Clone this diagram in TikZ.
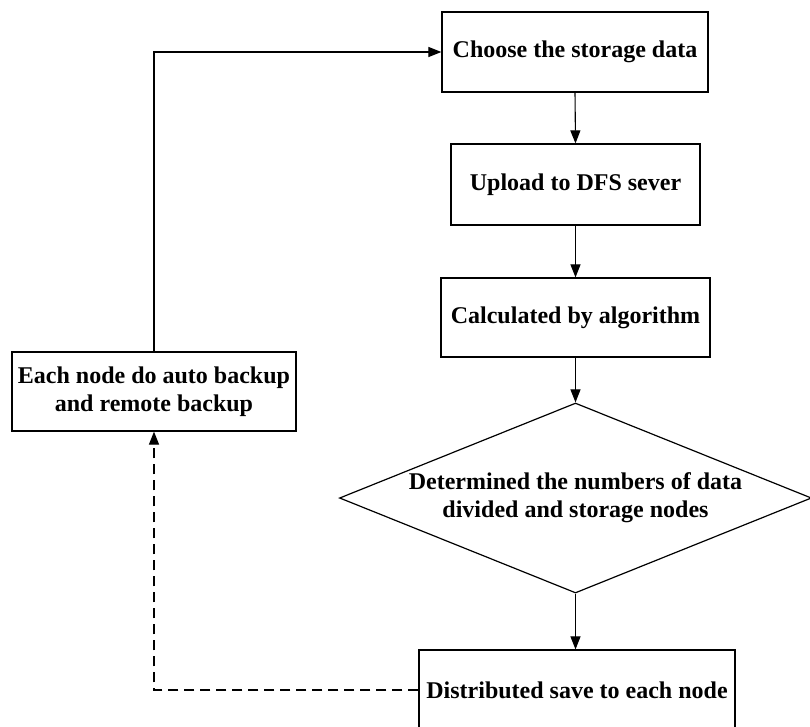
\documentclass[tikz,border=0pt]{standalone}
\usepackage{fontspec}
\setmainfont{Liberation Serif}
\usetikzlibrary{shapes.geometric,arrows.meta}
\begin{document}
\begin{tikzpicture}[x=1pt,y=-1pt,
  every node/.style={font=\fontsize{24}{28}\selectfont\bfseries, align=center, inner sep=0pt},
  procbox/.style={draw=black, line width=1.2pt, rectangle},
  decision/.style={draw=black, line width=1.2pt, diamond, shape aspect=2.48},
  flow/.style={line width=1.1pt, -{Triangle[length=13pt,width=10pt]}},
  backflow/.style={flow, dash pattern=on 10pt off 6pt}]
  \useasboundingbox (0,0) rectangle (810,726);
  \clip (0,0) rectangle (810,726);

  % main processing chain
  \node[procbox, minimum width=266pt, minimum height=80pt] (choose) at (575,52) {Choose the storage data};
  \node[procbox, minimum width=249pt, minimum height=81pt] (upload) at (575.5,184.5) {Upload to DFS sever};
  \node[procbox, minimum width=269pt, minimum height=79pt] (calc) at (575.5,317.5) {Calculated by algorithm};
  \node[decision, minimum width=472pt, minimum height=190pt] (decide) at (575.5,498) {Determined the numbers of data\\divided and storage nodes};
  \node[procbox, minimum width=316pt, minimum height=80pt] (save) at (577,690) {Distributed save to each node};

  % backup step on the left
  \node[procbox, minimum width=284pt, minimum height=79pt] (backup) at (154,391.5) {Each node do auto backup\\and remote backup};

  \coordinate (bl) at (154,690);
  \coordinate (tl) at (154,52);

  \draw[flow] (choose.south) -- (upload.north);
  \draw[flow] (upload.south) -- (calc.north);
  \draw[flow] (calc.south) -- (decide.north);
  \draw[flow] (decide.south) -- (save.north -| decide.south);
  \draw[backflow] (save.west) -- (bl) -- (backup.south);
  \draw[flow] (backup.north) -- (tl) -- (choose.west);
\end{tikzpicture}
\end{document}
